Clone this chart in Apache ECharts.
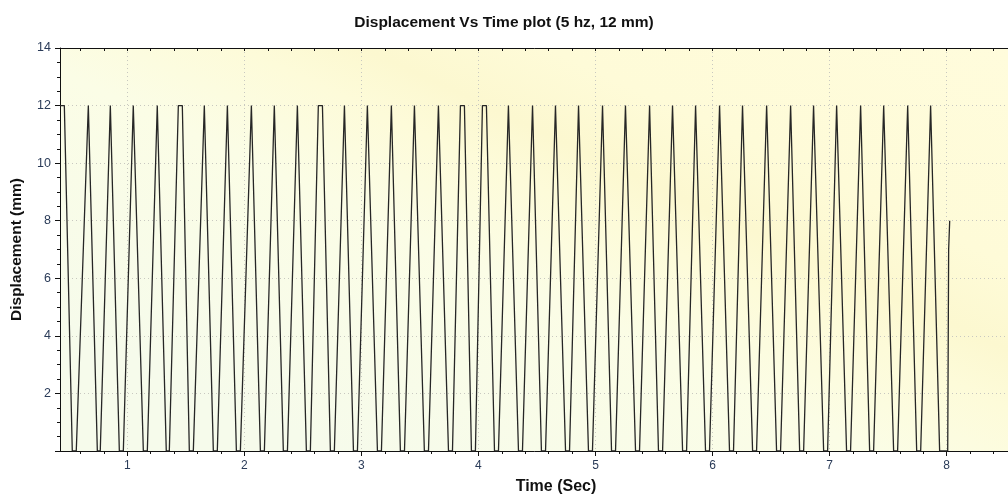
<!DOCTYPE html>
<html>
<head>
<meta charset="utf-8">
<script src="https://cdn.jsdelivr.net/npm/echarts@6/dist/echarts.min.js"></script>
<style>html,body{margin:0;padding:0;background:#fff;}#c{width:1008px;height:499px;}</style>
</head>
<body>
<div id="c"></div>
<script>
// Axis ranges / ticks
const xLabelValues = [1, 2, 3, 4, 5, 6, 7, 8];
const yLabelValues = [2, 4, 6, 8, 10, 12, 14];
// Start of trace (flat at 12)
const startSegment = [[0.425, 12], [0.462, 12]];
// Peak (12 mm) times, start and end (flat tops where they differ)
const peakStart = [0.667, 0.855, 1.051, 1.256, 1.436, 1.658, 1.855, 2.060, 2.256, 2.453, 2.632, 2.855, 3.051, 3.256, 3.453, 3.658, 3.846, 4.034, 4.256, 4.462, 4.658, 4.855, 5.060, 5.256, 5.462, 5.658, 5.855, 6.060, 6.256, 6.462, 6.667, 6.863, 7.060, 7.265, 7.462, 7.667, 7.863];
const peakEnd   = [0.667, 0.855, 1.051, 1.256, 1.470, 1.658, 1.855, 2.060, 2.256, 2.453, 2.667, 2.855, 3.051, 3.256, 3.453, 3.658, 3.880, 4.068, 4.256, 4.462, 4.658, 4.855, 5.060, 5.256, 5.462, 5.658, 5.855, 6.060, 6.256, 6.462, 6.667, 6.863, 7.060, 7.265, 7.462, 7.667, 7.863];
// Trough (0 mm) times, start and end
const troughStart = [0.530, 0.744, 0.932, 1.137, 1.333, 1.530, 1.735, 1.932, 2.137, 2.333, 2.530, 2.735, 2.932, 3.137, 3.333, 3.538, 3.744, 3.940, 4.137, 4.342, 4.538, 4.744, 4.940, 5.137, 5.342, 5.538, 5.744, 5.940, 6.145, 6.342, 6.547, 6.744, 6.949, 7.145, 7.342, 7.547, 7.744, 7.940];
const troughEnd   = [0.564, 0.769, 0.966, 1.171, 1.359, 1.564, 1.769, 1.966, 2.171, 2.368, 2.564, 2.769, 2.966, 3.171, 3.368, 3.573, 3.778, 3.974, 4.171, 4.376, 4.573, 4.778, 4.974, 5.171, 5.376, 5.573, 5.778, 5.974, 6.179, 6.376, 6.581, 6.778, 6.983, 7.179, 7.376, 7.581, 7.778, 8.009];
// Final rising segment at the end of the record
const endSegment = [[8.017, 7], [8.026, 8]];

const data = startSegment.slice();
for (let i = 0; i < troughStart.length; i++) {
  data.push([troughStart[i], 0]);
  data.push([troughEnd[i], 0]);
  if (i < peakStart.length) {
    data.push([peakStart[i], 12]);
    if (peakEnd[i] !== peakStart[i]) data.push([peakEnd[i], 12]);
  }
}
endSegment.forEach(p => data.push(p));

const X_MIN = 0.425, X_MAX = 8.9;
const minorX = [];
for (let k = 3; k <= 44; k++) { const v = +(k * 0.2).toFixed(1); if (Math.abs(v - Math.round(v)) > 1e-6) minorX.push(v); }
const allX = [];
for (let k = 3; k <= 44; k++) allX.push(+(k * 0.2).toFixed(1));

const FONT = 'Liberation Sans, Arial, sans-serif';
const labelColor = '#2a3b58';
const chart = echarts.init(document.getElementById('c'), null, {renderer: 'canvas'});
chart.setOption({
  animation: false,
  backgroundColor: '#ffffff',
  title: {
    text: 'Displacement Vs Time plot (5 hz, 12 mm)',
    left: 'center', top: 10,
    textStyle: {fontFamily: FONT, fontSize: 15.5, fontWeight: 'bold', color: '#111'}
  },
  grid: {
    left: 60, right: -44, top: 48, bottom: 48, show: true, borderWidth: 0,
    outerBoundsMode: 'none', containLabel: false,
    backgroundColor: new echarts.graphic.LinearGradient(505, 531, 781, -58, [
      {offset: 0, color: '#f6fbeb'},
      {offset: 0.35, color: '#fbfde6'},
      {offset: 0.5, color: '#fdfbd9'},
      {offset: 0.58, color: '#fcf8d0'},
      {offset: 0.7, color: '#fefbd8'},
      {offset: 1, color: '#fffcdc'}
    ], true)
  },
  xAxis: [
    {
      type: 'value', min: X_MIN, max: X_MAX, position: 'bottom',
      name: 'Time (Sec)', nameLocation: 'middle', nameGap: 28,
      nameTextStyle: {fontFamily: FONT, fontSize: 16, fontWeight: 'bold', color: '#111'},
      axisLine: {show: true, onZero: false, lineStyle: {color: '#111', width: 1}},
      axisTick: {show: true, inside: false, length: 5, customValues: xLabelValues, lineStyle: {color: '#111'}},
      axisLabel: {customValues: xLabelValues, color: labelColor, fontFamily: FONT, fontSize: 12, margin: 9},
      splitLine: {show: true, lineStyle: {color: '#c8c8c0', type: [1, 3], width: 1}}
    },
    {
      type: 'value', min: X_MIN, max: X_MAX, position: 'bottom',
      axisLine: {show: false, onZero: false},
      axisTick: {show: true, inside: false, length: 3, customValues: minorX, lineStyle: {color: '#111'}},
      axisLabel: {show: false},
      splitLine: {show: false}
    },
    {
      type: 'value', min: X_MIN, max: X_MAX, position: 'top',
      axisLine: {show: true, onZero: false, lineStyle: {color: '#111', width: 1}},
      axisTick: {show: true, inside: true, length: 3, customValues: allX, lineStyle: {color: '#111'}},
      axisLabel: {show: false},
      splitLine: {show: false}
    }
  ],
  yAxis: {
    type: 'value', min: 0, max: 14, interval: 2,
    name: 'Displacement (mm)', nameLocation: 'middle', nameGap: 35,
    nameTextStyle: {fontFamily: FONT, fontSize: 15.5, fontWeight: 'bold', color: '#111'},
    axisLine: {show: true, onZero: false, lineStyle: {color: '#111', width: 1}},
    axisTick: {show: true, inside: false, length: 5, lineStyle: {color: '#111'}},
    minorTick: {show: true, splitNumber: 4, length: 3, lineStyle: {color: '#111'}},
    axisLabel: {color: labelColor, fontFamily: FONT, fontSize: 12.5, margin: 9,
      formatter: v => (yLabelValues.indexOf(v) >= 0 ? String(v) : '')},
    splitLine: {show: true, lineStyle: {color: '#c8c8c0', type: [1, 3], width: 1}}
  },
  series: [{
    type: 'line', xAxisIndex: 0, data: data, showSymbol: false, symbol: 'none',
    lineStyle: {color: '#262626', width: 1.3}, clip: true
  }]
});
</script>
</body>
</html>
